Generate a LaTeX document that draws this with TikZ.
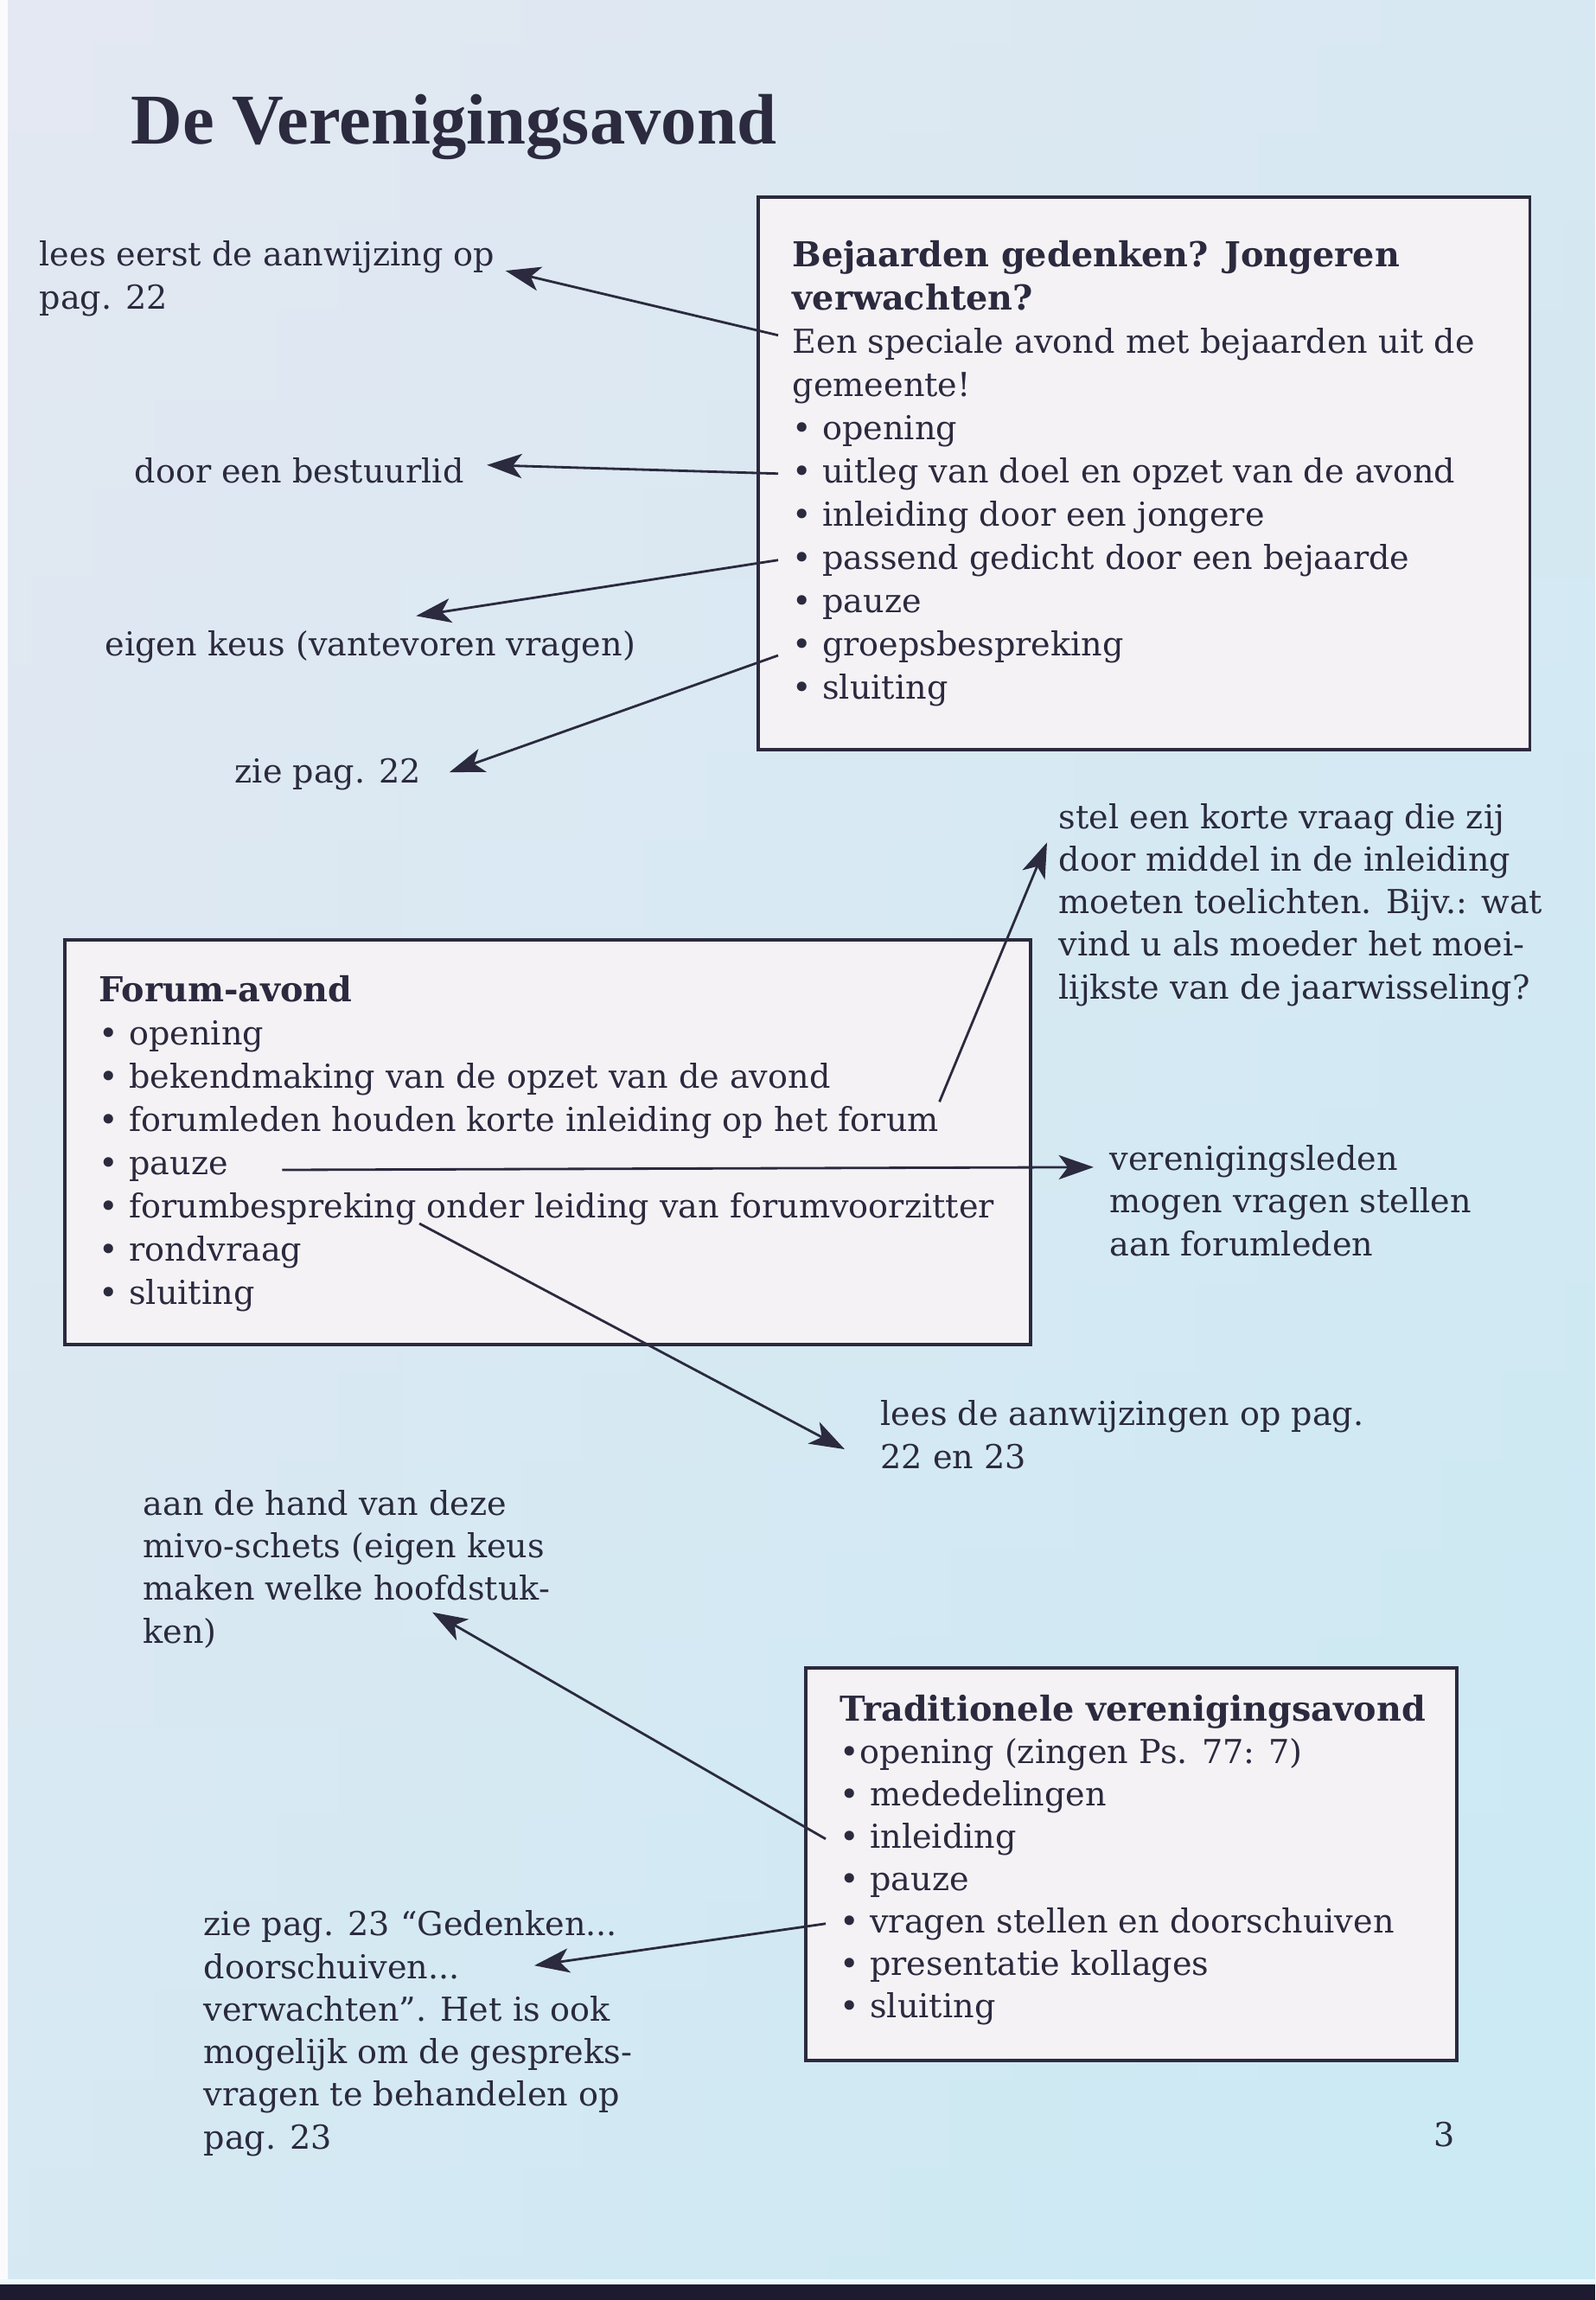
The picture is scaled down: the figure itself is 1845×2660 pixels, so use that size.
\documentclass[tikz,border=0pt]{standalone}
\usepackage{fontspec}
\setmainfont{DejaVu Serif}
\newfontfamily\titlefont{Liberation Serif}
\usetikzlibrary{arrows.meta, positioning, calc}

\definecolor{ink}{HTML}{2B2A3E}
\definecolor{boxfill}{HTML}{F5F2F6}
\definecolor{bgleft}{HTML}{E4E8F2}
\definecolor{bgright}{HTML}{CAEAF4}
\definecolor{barcol}{HTML}{1E1A30}

\newcommand{\bodysize}{\fontsize{10.85pt}{14pt}\selectfont}
\newcommand{\headsize}{\fontsize{11.3pt}{14pt}\selectfont\bfseries}

\begin{document}
\begin{tikzpicture}[x=0.01cm, y=-0.01cm,
  boxframe/.style={draw=ink, line width=1.1pt, fill=boxfill, inner sep=0, anchor=north west},
  item/.style={anchor=base west, inner xsep=0.16cm, inner ysep=0, font=\bodysize, text=ink},
  heading/.style={item, font=\headsize},
  note/.style={anchor=base west, align=left, inner sep=0, font=\bodysize, text=ink},
  arrow/.style={-{Stealth[length=11.5pt, width=8pt, inset=3pt]}, line width=0.8pt, draw=ink}
]
\useasboundingbox (0,0) rectangle (1845,2660);

% page
\shade[left color=bgleft, right color=bgright] (0,0) rectangle (1845,2660);
\shade[top color=bgleft, bottom color=bgright, opacity=0.5] (0,0) rectangle (1845,2660);
\fill[white!85!bgleft] (0,0) rectangle (9,2642);
\fill[white!70!bgright] (0,2636) rectangle (1845,2642);
\fill[barcol] (0,2642) rectangle (1845,2660);

\node[anchor=base west, inner sep=0, text=ink, font=\titlefont\bfseries\fontsize{23.5pt}{28pt}\selectfont] (title) at (151,166) {De Verenigingsavond};

% box 1 (notes: base = last line)
\node[boxframe, minimum width=8.92cm, minimum height=6.39cm] (bejbox) at (875,226) {};
\node[heading] (bejhead) at (900,308) {Bejaarden gedenken? Jongeren};
\node[heading] (bejhead2) at (900,358) {verwachten?};
\node[item] (een) at (900,408) {Een speciale avond met bejaarden uit de};
\node[item] (gemeente) at (900,458) {gemeente!};
\node[item] (bejopen) at (900,508) {• opening};
\node[item] (uitleg) at (900,558) {• uitleg van doel en opzet van de avond};
\node[item] (inljong) at (900,608) {• inleiding door een jongere};
\node[item] (passend) at (900,658) {• passend gedicht door een bejaarde};
\node[item] (bejpauze) at (900,708) {• pauze};
\node[item] (groeps) at (900,758) {• groepsbespreking};
\node[item] (bejsluit) at (900,808) {• sluiting};

\node[note] (lees) at (45,357) {lees eerst de aanwijzing op\\pag. 22};
\node[note] (door) at (155,558) {door een bestuurlid};
\node[note] (eigen) at (121,758) {eigen keus (vantevoren vragen)};
\node[note] (zie22) at (271,905) {zie pag. 22};

\draw[arrow] ($(een.west)+(0,-10)$) -- ($(lees.north east)+(12,35)$);
\draw[arrow] (uitleg.west) -- ($(door.east)+(26,-6)$);
\draw[arrow] (passend.west) -- ($(eigen.north)+(53,-16)$);
\draw[arrow] (groeps.base west) -- ($(zie22.east)+(32,-2)$);

% box 2
\node[boxframe, minimum width=11.16cm, minimum height=4.68cm] (forumbox) at (73,1085) {};
\node[heading] (forumhead) at (98,1158) {Forum-avond};
\node[item] (forumopen) at (98,1208) {• opening};
\node[item] (bekend) at (98,1258) {• bekendmaking van de opzet van de avond};
\node[item] (forumleden) at (98,1308) {• forumleden houden korte inleiding op het forum};
\node[item] (forumpauze) at (98,1358) {• pauze};
\node[item] (forumbespr) at (98,1408) {• forumbespreking onder leiding van forumvoorzitter};
\node[item] (rondvraag) at (98,1458) {• rondvraag};
\node[item] (forumsluit) at (98,1508) {• sluiting};

\node[note] (stel) at (1224,1155) {stel een korte vraag die zij\\door middel in de inleiding\\moeten toelichten. Bijv.: wat\\vind u als moeder het moei-\\lijkste van de jaarwisseling?};
\node[note] (verleden) at (1283,1452) {verenigingsleden\\mogen vragen stellen\\aan forumleden};
\node[note] (leesde) at (1018,1698) {lees de aanwijzingen op pag.\\22 en 23};

\draw[arrow] ($(forumleden.north east)+(-16,-4)$) -- ($(stel.north west)+(-13,46)$);
\draw[arrow] ($(forumpauze.base east)+(46,-5)$) -- ($(verleden.north west)+(-18,26)$);
\draw[arrow] ($(forumbespr.base west)+(387,7)$) -- ($(leesde.north west)+(-41,57)$);

% box 3
\node[boxframe, minimum width=7.53cm, minimum height=4.54cm] (tradbox) at (930,1927) {};
\node[heading] (tradhead) at (955,1990) {Traditionele verenigingsavond};
\node[item] (tropen) at (955,2039) {•opening (zingen Ps. 77: 7)};
\node[item] (trmeded) at (955,2088) {• mededelingen};
\node[item] (trinl) at (955,2137) {• inleiding};
\node[item] (trpauze) at (955,2186) {• pauze};
\node[item] (trvragen) at (955,2235) {• vragen stellen en doorschuiven};
\node[item] (trkoll) at (955,2284) {• presentatie kollages};
\node[item] (trsluit) at (955,2333) {• sluiting};

\node[note] (aandehand) at (165,1900) {aan de hand van deze\\mivo-schets (eigen keus\\maken welke hoofdstuk-\\ken)};
\node[note] (zie23) at (235,2485) {zie pag. 23 “Gedenken...\\doorschuiven...\\verwachten”. Het is ook\\mogelijk om de gespreks-\\vragen te behandelen op\\pag. 23};

\draw[arrow] (trinl.west) -- ($(aandehand.north west)+(335,142)$);
\draw[arrow] (trvragen.west) -- ($(zie23.north west)+(383,64)$);

\node[note] (pagenr) at (1658,2482) {3};
\end{tikzpicture}
\end{document}
